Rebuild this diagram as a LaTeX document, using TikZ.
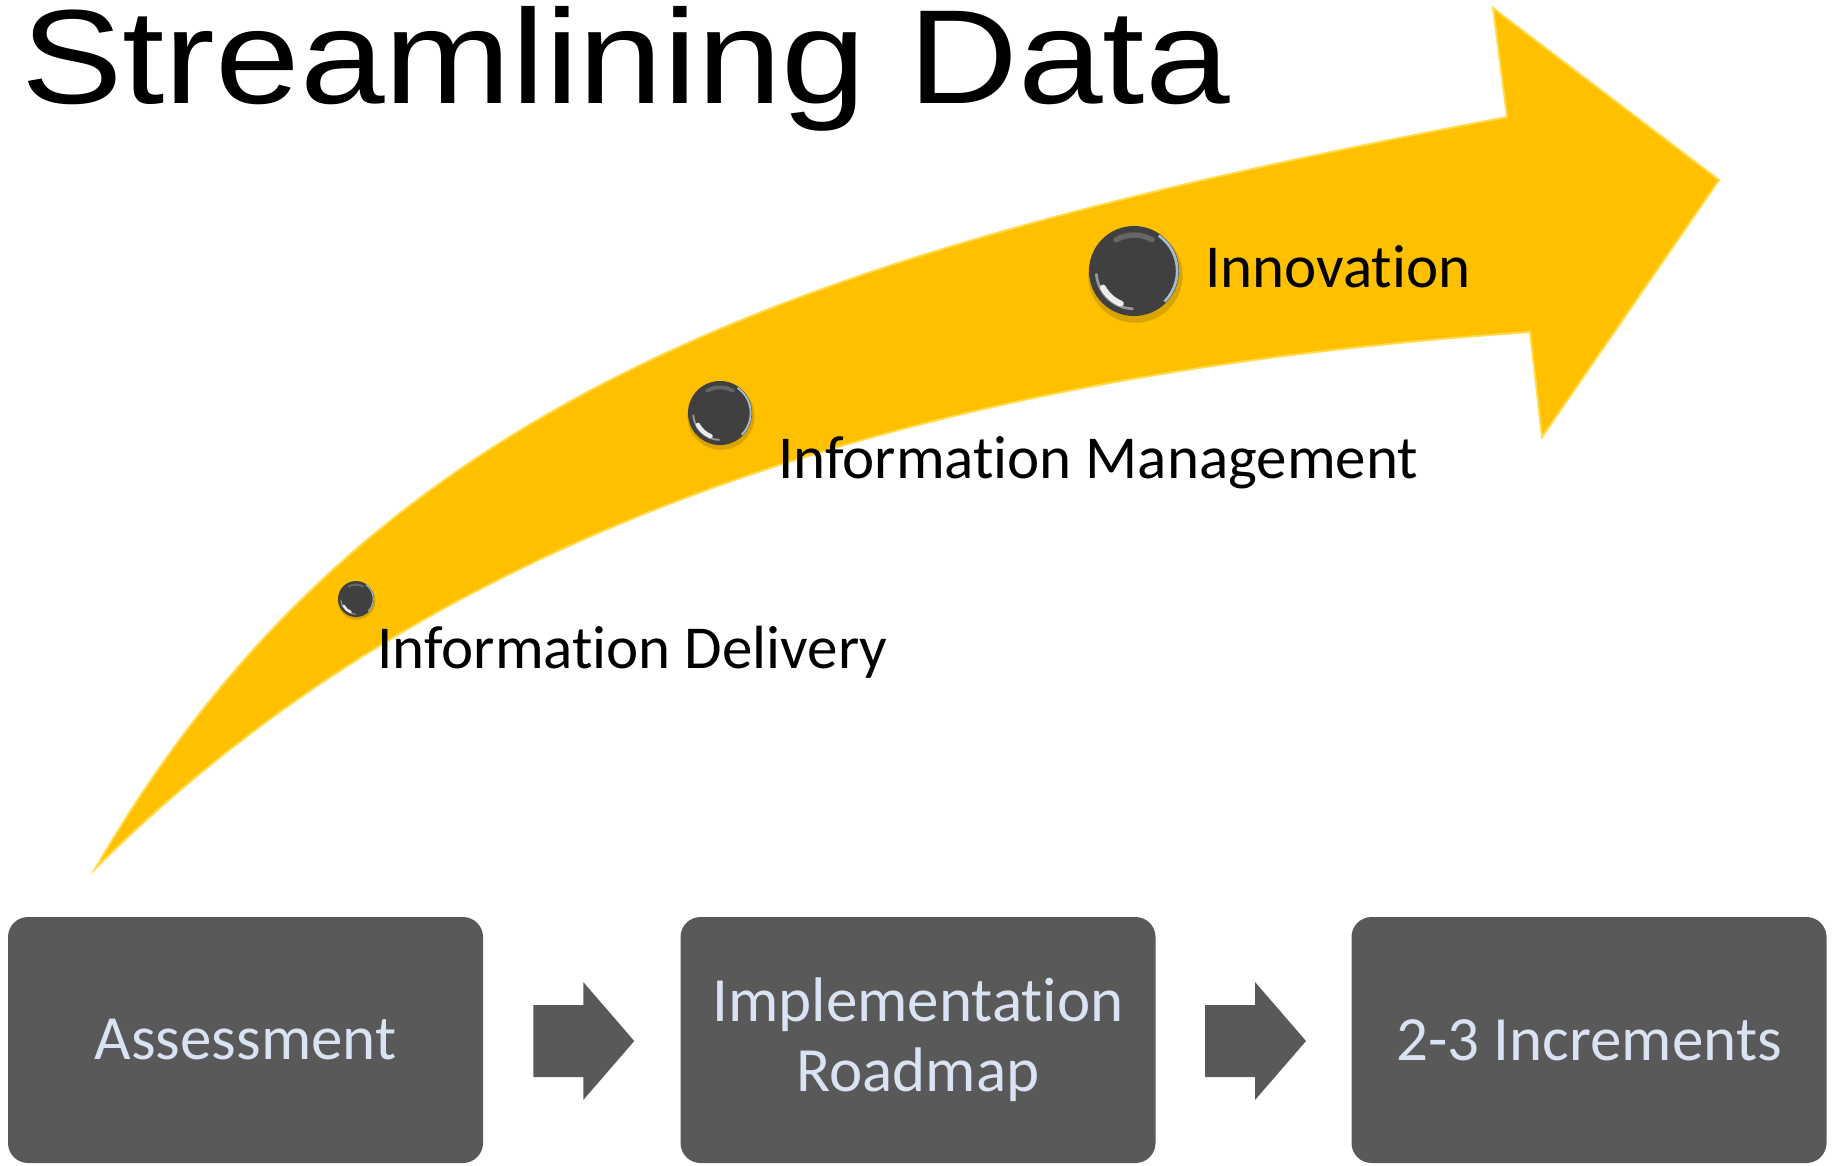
\documentclass[tikz,border=0pt]{standalone}
\usepackage{fontspec}
\setmainfont{Carlito}[Ligatures={NoCommon,NoContextual}]
\newfontfamily\titlefont{Liberation Sans}
\usetikzlibrary{calc}
\newcommand\tiNL{t\kern0pt i}
\definecolor{gold}{HTML}{FFC000}
\definecolor{goldlight}{HTML}{FFDB4D}
\definecolor{boxgray}{HTML}{595959}
\definecolor{boxtext}{HTML}{DAE3F3}
\definecolor{balldark}{HTML}{404040}
\definecolor{ballrim}{HTML}{A8BCD0}
\definecolor{shadowcol}{HTML}{A07800}
\newcommand\glassball[3]{%
  \begin{scope}[shift={(#1,#2)}, x=1pt, y=1pt]
    \fill[shadowcol, opacity=0.4] (0.03*#3,-0.1*#3) circle[radius=1.05*#3];
    \fill[balldark] (0,0) circle[radius=#3];
    \draw[white, opacity=0.45, line width=0.06*#3, line cap=round]
      (185:0.84*#3) arc[start angle=185, end angle=268, radius=0.84*#3];
    \draw[white, opacity=0.9, line width=0.13*#3, line cap=round]
      (208:0.78*#3) arc[start angle=208, end angle=248, radius=0.78*#3];
    \draw[white, opacity=0.2, line width=0.12*#3, line cap=round]
      (60:0.8*#3) arc[start angle=60, end angle=120, radius=0.8*#3];
    \draw[ballrim, line width=0.06*#3] (-45:0.96*#3) arc[start angle=-45, end angle=55, radius=0.96*#3];
  \end{scope}}
\begin{document}
\begin{tikzpicture}[x=1pt,y=-1pt,
  stepbox/.style={rectangle, rounded corners=20pt, fill=boxgray, minimum width=475pt,
    minimum height=246pt, inner sep=0pt, text=boxtext,
    font=\fontsize{63}{70}\selectfont, align=center},
  blockarrow/.style={fill=boxgray},
  lbl/.style={anchor=base west, inner sep=0pt, font=\fontsize{61}{70}\selectfont, text=black}]
\useasboundingbox (0,0) rectangle (1835,1165);

% title
\node[anchor=base west, inner sep=0pt, font=\titlefont\fontsize{134}{140}\selectfont] (title) at (21,103) {\scalebox{1.135}[1]{Streamlining Data}};

% big curved arrow
\fill[gold, draw=goldlight, line width=2pt, line join=miter]
  (95,869) .. controls (370,393) and (807,250) .. (1507,117)
  -- (1493,8) -- (1719,180) -- (1542,437) -- (1530,332)
  .. controls (980,370) and (463,501) .. (95,869) -- cycle;

% balls
\glassball{356}{599}{18}
\glassball{720}{413}{32}
\glassball{1134}{271}{45}

% labels
\node[lbl] (l1) at (377,668) {Informa\tiNL on Delivery};
\node[lbl] (l2) at (778,478) {Informa\tiNL on Management};
\node[lbl] (l3) at (1205,287) {Innova\tiNL on};

% boxes
\node[stepbox] (b1) at (245.5,1040) {Assessment};
\node[stepbox] (b2) at (918,1040) {Implementa\tiNL on\\Roadmap};
\node[stepbox] (b3) at (1589,1040) {2-3 Increments};

% block arrows between boxes
\coordinate (a1) at ($(b1.east)!0.5!(b2.west)+(2,1)$);
\coordinate (a2) at ($(b2.east)!0.5!(b3.west)+(2,1)$);
\foreach \c in {a1,a2}{
  \fill[blockarrow] (\c) ++(-50.5,-36) -- ++(50,0) -- ++(0,-23) -- ++(51,59)
    -- ++(-51,59) -- ++(0,-23) -- ++(-50,0) -- cycle;
}
\end{tikzpicture}
\end{document}
